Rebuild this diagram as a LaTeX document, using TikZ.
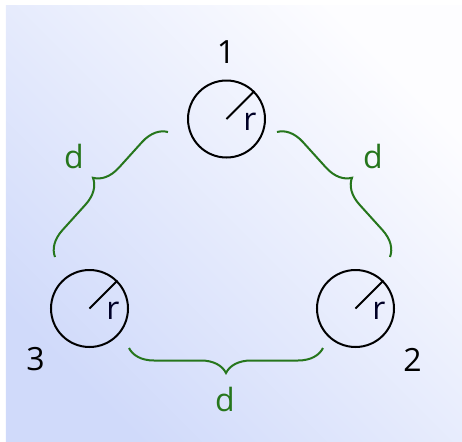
\documentclass[tikz,border=0pt]{standalone}
\usepackage{fontspec}
\setmainfont{Open Sans}
\usetikzlibrary{calc,decorations.pathreplacing}
\definecolor{bracegreen}{RGB}{38,118,28}
\definecolor{bglow}{RGB}{208,218,250}
\definecolor{bghigh}{RGB}{253,253,255}
\tikzset{
  wire/.style={circle, draw, line width=1pt, minimum size=38.5pt, inner sep=0pt},
  radius line/.style={line width=1pt},
  gap brace/.style={decorate, decoration={brace, amplitude=12.5pt}, draw=bracegreen, line width=1pt},
  num label/.style={font=\fontsize{16}{19}\selectfont, text=black, inner sep=0pt},
  r label/.style={font=\fontsize{16}{19}\selectfont, text=black!85!blue, inner sep=0pt},
  d label/.style={font=\fontsize{16}{19}\selectfont, text=bracegreen, inner sep=0pt},
}

\begin{document}
\begin{tikzpicture}[x=0.5pt, y=-0.5pt]
  \useasboundingbox (0,0) rectangle (462,441);

  % Background panel
  \shade[bottom color=bglow, top color=bghigh, shading angle=-45] (6,5) rectangle (462,441);

  % Three wires with their radius
  \node[wire] (w1) at (226.5,119) {};
  \node[wire] (w2) at (355.5,308.5) {};
  \node[wire] (w3) at (89.5,308.5) {};
  \foreach \w in {w1,w2,w3} {
    \draw[radius line] (\w.center) -- (\w.45);
    \node[r label] (\w-r) at ($(\w.center)+(23.5,2.5)$) {r};
  }

  % Wire numbers
  \node[num label] (n1) at (226,52) {1};
  \node[num label] (n2) at (412.5,360) {2};
  \node[num label] (n3) at (35.5,359) {3};

  % Distances between the wires
  \draw[gap brace] (55,257) -- (168,132);
  \draw[gap brace] (277,132) -- (390,257);
  \draw[gap brace] (323,348) -- (129,348);
  \node[d label] (d13) at (74,156) {d};
  \node[d label] (d12) at (373,156) {d};
  \node[d label] (d23) at (225,399) {d};

\end{tikzpicture}
\end{document}
